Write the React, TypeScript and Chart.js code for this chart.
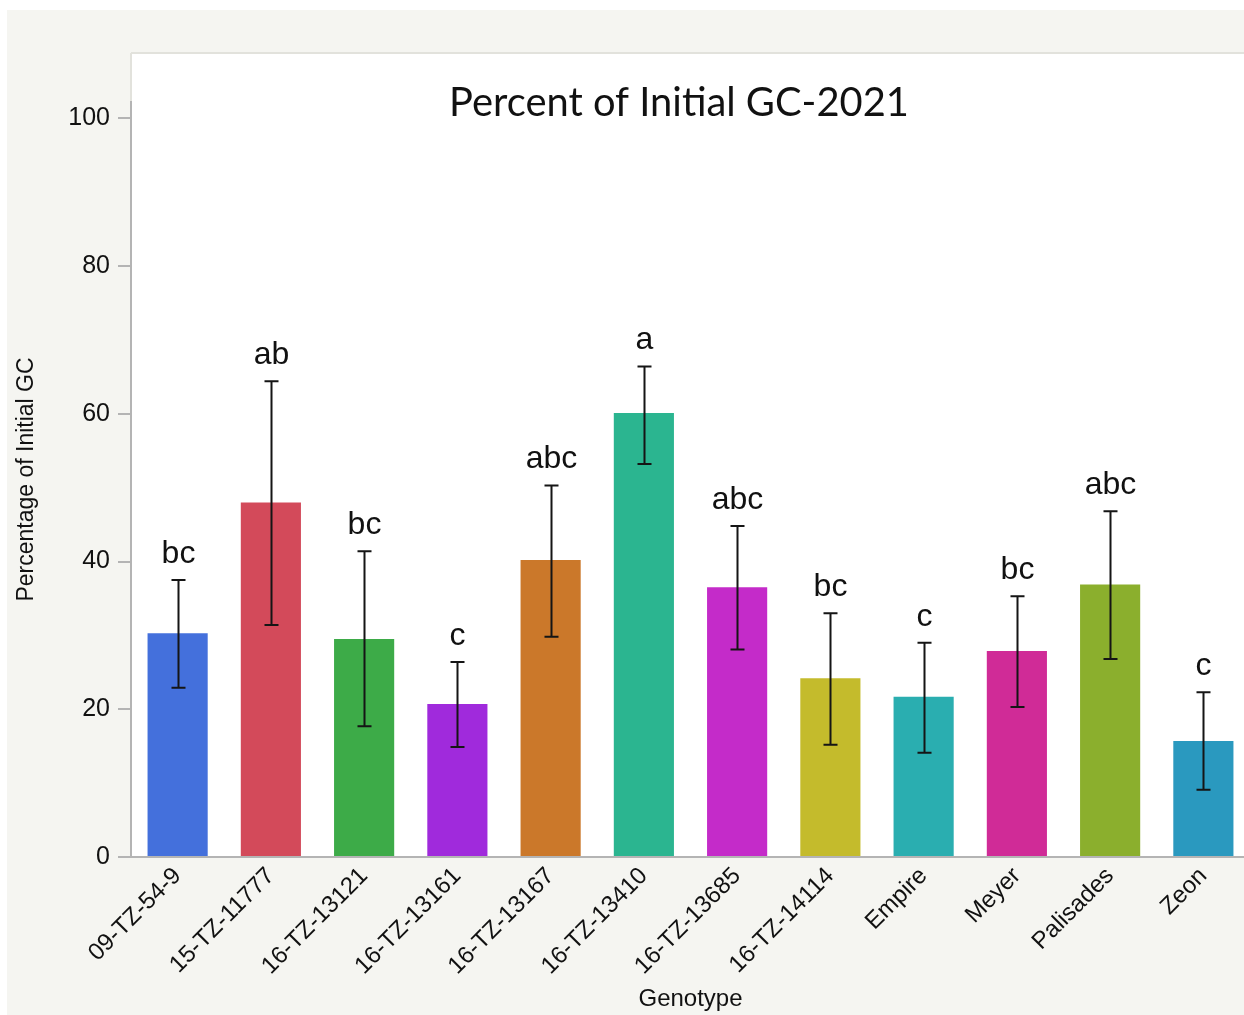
import React, { useEffect, useRef } from "react";
import { Chart, registerables } from "chart.js";

Chart.register(...registerables);

const genotypes = [
  "09-TZ-54-9", "15-TZ-11777", "16-TZ-13121", "16-TZ-13161", "16-TZ-13167", "16-TZ-13410",
  "16-TZ-13685", "16-TZ-14114", "Empire", "Meyer", "Palisades", "Zeon",
];
const means = [30.3, 48.0, 29.5, 20.7, 40.2, 60.1, 36.5, 24.2, 21.7, 27.9, 36.9, 15.7];
const errHigh = [37.5, 64.4, 41.4, 26.4, 50.3, 66.4, 44.8, 33.0, 29.0, 35.3, 46.8, 22.3];
const errLow = [22.9, 31.4, 17.7, 14.9, 29.8, 53.2, 28.1, 15.2, 14.1, 20.3, 26.8, 9.1];
const letters = ["bc", "ab", "bc", "c", "abc", "a", "abc", "bc", "c", "bc", "abc", "c"];
const barColors = [
  "#4470DC", "#D34A5A", "#3DAB48", "#A02ADC", "#CB782A", "#2BB590",
  "#C42BC9", "#C4BB2C", "#2AAEB0", "#D02B97", "#8BAF2D", "#2A99BF",
];
const yTicks = [0, 20, 40, 60, 80, 100];

const chartTitle = "Percent of Initial GC-2021";

const W = 1244;
const H = 1015;
const CW = 1250;

const bgPlugin = {
  id: "bgPlugin",
  beforeDraw(chart: any) {
    const { ctx, chartArea } = chart;
    ctx.save();
    ctx.fillStyle = "#ffffff";
    ctx.fillRect(0, 0, CW, H);
    ctx.fillStyle = "#f5f5f1";
    ctx.fillRect(7, 10, CW - 7, H - 10);
    ctx.fillStyle = "#ffffff";
    ctx.fillRect(chartArea.left, 53, chartArea.right - chartArea.left, chartArea.bottom - 53);
    ctx.strokeStyle = "#e2e2dc";
    ctx.lineWidth = 2;
    ctx.beginPath();
    ctx.moveTo(chartArea.left, 53);
    ctx.lineTo(chartArea.right, 53);
    ctx.moveTo(chartArea.left, 53);
    ctx.lineTo(chartArea.left, chartArea.top);
    ctx.stroke();
    ctx.restore();
  },
};

const errorPlugin = {
  id: "errorPlugin",
  afterDatasetsDraw(chart: any) {
    const { ctx } = chart;
    const xs = chart.scales.x;
    const ys = chart.scales.y;
    ctx.save();
    ctx.strokeStyle = "#151515";
    ctx.lineWidth = 2;
    for (let i = 0; i < means.length; i++) {
      const x = Math.round(xs.getPixelForValue(i)) + 0.5;
      const yh = ys.getPixelForValue(errHigh[i]);
      const yl = ys.getPixelForValue(errLow[i]);
      ctx.beginPath();
      ctx.moveTo(x, yh);
      ctx.lineTo(x, yl);
      ctx.moveTo(x - 7, yh);
      ctx.lineTo(x + 7, yh);
      ctx.moveTo(x - 7, yl);
      ctx.lineTo(x + 7, yl);
      ctx.stroke();
      ctx.fillStyle = "#111111";
      ctx.font = "32px 'Liberation Sans', Arial, sans-serif";
      ctx.textAlign = "center";
      ctx.textBaseline = "alphabetic";
      ctx.fillText(letters[i], x, yh - 17);
    }
    ctx.restore();
  },
  afterDraw(chart: any) {
    const { ctx } = chart;
    ctx.save();
    ctx.fillStyle = "#111111";
    let size = 38;
    ctx.font = `${size}px Lato, 'Open Sans', sans-serif`;
    const w = ctx.measureText(chartTitle).width;
    size = size * (460 / w);
    ctx.font = `${size}px Lato, 'Open Sans', sans-serif`;
    ctx.textAlign = "center";
    ctx.textBaseline = "alphabetic";
    ctx.fillText(chartTitle, 679, 116);
    ctx.restore();
  },
};

export default function App() {
  const ref = useRef<HTMLCanvasElement | null>(null);
  useEffect(() => {
    if (!ref.current) return;
    const chart = new Chart(ref.current, {
      type: "bar",
      data: {
        labels: genotypes,
        datasets: [
          {
            data: means,
            backgroundColor: barColors,
            borderWidth: 0,
            barPercentage: 0.645,
            categoryPercentage: 1,
          },
        ],
      },
      options: {
        responsive: false,
        animation: false,
        devicePixelRatio: 1,
        layout: { padding: { top: 102, left: 0, right: 0, bottom: 0 } },
        plugins: {
          legend: { display: false },
          title: { display: false },
          tooltip: { enabled: false },
        },
        scales: {
          x: {
            afterFit(scale: any) {
              scale.height = 1015 - 857;
            },
            grid: { display: true, drawOnChartArea: false, drawTicks: false, color: "rgba(0,0,0,0)" },
            border: { display: true, color: "#b4b4b4", width: 2 },
            ticks: {
              autoSkip: false,
              maxRotation: 45,
              minRotation: 45,
              padding: 5,
              color: "#111111",
              font: { family: "'Liberation Sans', Arial, sans-serif", size: 24 },
            },
            title: {
              display: true,
              text: "Genotype",
              color: "#111111",
              font: { family: "'Liberation Sans', Arial, sans-serif", size: 24 },
              padding: { top: 0, bottom: 1 },
            },
          },
          y: {
            min: 0,
            max: 102.2,
            afterFit(scale: any) {
              scale.width = 131;
            },
            afterBuildTicks(scale: any) {
              scale.ticks = yTicks.map((v) => ({ value: v }));
            },
            grid: {
              display: true,
              drawOnChartArea: false,
              drawTicks: true,
              tickLength: 13,
              color: "#b4b4b4",
              lineWidth: 2,
            },
            border: { display: true, color: "#b4b4b4", width: 2 },
            ticks: {
              padding: 8,
              color: "#111111",
              font: { family: "'Liberation Sans', Arial, sans-serif", size: 25 },
            },
            title: {
              display: true,
              text: "Percentage of Initial GC",
              color: "#111111",
              font: { family: "'Liberation Sans', Arial, sans-serif", size: 23 },
              padding: { top: 13, bottom: 0 },
            },
          },
        },
      },
      plugins: [bgPlugin, errorPlugin],
    });
    return () => chart.destroy();
  }, []);
  return (
    <div style={{ position: "absolute", left: 0, top: 0, width: W, height: H, overflow: "hidden" }}>
      <canvas ref={ref} width={CW} height={H} style={{ display: "block", width: CW, height: H }} />
    </div>
  );
}
